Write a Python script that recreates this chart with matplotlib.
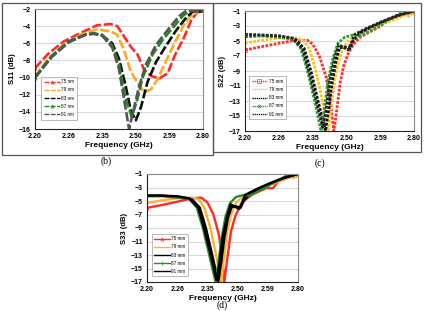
import matplotlib
matplotlib.use("Agg")
import matplotlib.pyplot as plt
from matplotlib.patches import Rectangle

plt.rcParams['font.family'] = ['Liberation Sans', 'DejaVu Sans']

W, H = 426, 311

tick_labels = ['2.20', '2.26', '2.35', '2.50', '2.59', '2.80']

# x values are positions along the (category-like) frequency axis, 0..5 = tick labels
# ---- panel (b) S11 ----
b75_x = [0, 0.4, 0.85, 1.35, 1.85, 2.25, 2.45, 2.65, 2.85, 3.05, 3.25, 3.45, 3.7, 3.95, 4.15, 4.45, 4.65, 4.85, 5.0]
b75_y = [-8.9, -7.2, -5.8, -4.8, -3.9, -3.75, -4.0, -5.2, -6.4, -7.3, -9.1, -9.8, -10.1, -9.5, -7.5, -5.2, -3.3, -2.3, -2.3]
b79_x = [0, 0.4, 0.85, 1.35, 1.85, 2.25, 2.45, 2.65, 2.85, 3.05, 3.25, 3.45, 3.65, 3.85, 4.15, 4.45, 4.65, 5.0]
b79_y = [-9.9, -7.8, -6.2, -5.0, -4.4, -4.6, -5.0, -6.8, -9.3, -10.6, -11.7, -11.4, -10.2, -8.5, -6.0, -3.7, -2.7, -2.2]
b83_x = [0, 0.5, 1.0, 1.5, 1.75, 2.0, 2.3, 2.5, 2.7, 2.85, 3.0, 3.15, 3.35, 3.6, 3.85, 4.2, 4.5, 4.7, 5.0]
b83_y = [-10, -7.5, -5.8, -5.0, -4.85, -5.1, -6.0, -7.8, -11.0, -13.8, -15.0, -13.5, -10.5, -8.2, -6.6, -4.5, -3.0, -2.3, -2.3]
b87_x = [0, 0.5, 1.0, 1.5, 1.75, 2.0, 2.3, 2.5, 2.7, 2.88, 3.05, 3.2, 3.5, 3.8, 4.1, 4.4, 4.6, 5.0]
b87_y = [-10, -7.5, -5.8, -5.0, -4.85, -5.0, -6.3, -8.5, -12.5, -14.6, -12.5, -10.0, -7.3, -5.6, -4.2, -2.8, -2.2, -2.3]
b91_x = [0, 0.5, 1.0, 1.5, 1.75, 2.0, 2.3, 2.5, 2.65, 2.8, 2.95, 3.1, 3.3, 3.6, 4.0, 4.3, 4.5, 5.0]
b91_y = [-10, -7.6, -5.9, -5.0, -4.9, -5.1, -6.5, -9.0, -12.5, -16.0, -13.5, -11.0, -8.5, -6.2, -4.2, -2.8, -2.2, -2.3]

# ---- panel (c) S22 ----
c75_x = [0, 0.5, 1.0, 1.5, 1.85, 2.0, 2.2, 2.4, 2.52, 2.63, 2.72, 2.82, 2.92, 3.05, 3.2, 3.4, 3.6, 3.9, 4.2, 4.5, 4.8, 5.0]
c75_y = [-6.2, -5.75, -5.3, -4.9, -4.9, -5.4, -7.0, -9.8, -13.0, -17.0, -14.0, -10.5, -8.3, -6.7, -5.5, -4.5, -4.0, -3.3, -2.4, -1.8, -1.4, -1.2]
c79_x = [0, 0.5, 1.0, 1.5, 1.7, 1.9, 2.1, 2.28, 2.46, 2.56, 2.66, 2.78, 2.9, 3.05, 3.2, 3.5, 4.0, 4.5, 4.75, 4.85, 5.0]
c79_y = [-5.3, -4.9, -4.6, -4.6, -4.8, -6.0, -9.0, -12.8, -17.0, -13.5, -10.0, -7.5, -6.0, -5.0, -4.4, -3.8, -2.8, -2.0, -1.5, -1.7, -1.2]
c83_x = [0, 0.5, 1.0, 1.5, 1.75, 1.95, 2.15, 2.38, 2.48, 2.58, 2.7, 2.8, 2.95, 3.1, 3.2, 3.4, 3.8, 4.2, 4.6, 5.0]
c83_y = [-4.4, -4.3, -4.4, -4.8, -6.0, -9.0, -12.8, -17.0, -14.0, -10.5, -7.5, -5.9, -5.8, -6.0, -5.0, -3.9, -3.0, -2.2, -1.5, -1.0]
c87_x = [0, 0.5, 1.0, 1.4, 1.65, 1.85, 2.05, 2.25, 2.35, 2.45, 2.6, 2.75, 2.95, 3.2, 3.4, 3.55, 3.8, 4.2, 4.6, 5.0]
c87_y = [-4.2, -4.3, -4.5, -4.7, -6.0, -9.0, -12.8, -17.0, -14.0, -10.5, -7.3, -5.3, -4.5, -4.2, -4.3, -4.0, -3.4, -2.3, -1.3, -0.9]
c91_x = [0, 0.5, 1.0, 1.4, 1.7, 1.9, 2.1, 2.3, 2.4, 2.5, 2.65, 2.77, 2.9, 3.05, 3.15, 3.25, 3.6, 4.0, 4.5, 5.0]
c91_y = [-4.1, -4.2, -4.3, -4.6, -6.0, -9.2, -12.8, -16.5, -14.2, -10.5, -7.3, -5.5, -5.8, -6.2, -5.2, -4.1, -3.3, -2.5, -1.6, -1.0]

# ---- panel (d) S33 ----
d75_x = [0, 0.5, 1.0, 1.5, 1.8, 2.0, 2.2, 2.38, 2.48, 2.56, 2.66, 2.78, 2.92, 3.05, 3.2, 3.5, 3.95, 4.17, 4.4, 4.7, 5.0]
d75_y = [-6.0, -5.6, -5.1, -4.6, -4.5, -5.2, -7.0, -10.0, -13.0, -17.0, -13.5, -9.5, -7.3, -6.0, -5.0, -4.0, -3.1, -3.1, -1.8, -1.5, -1.3]
d79_x = [0, 0.5, 1.0, 1.5, 1.7, 1.9, 2.1, 2.28, 2.46, 2.56, 2.66, 2.78, 2.95, 3.2, 3.5, 4.0, 4.5, 4.75, 4.85, 5.0]
d79_y = [-5.3, -4.9, -4.6, -4.5, -4.7, -6.0, -9.0, -12.8, -17.0, -13.0, -9.5, -7.0, -5.2, -4.3, -3.7, -2.7, -1.9, -1.4, -1.6, -1.1]
d83_x = [0, 0.5, 1.0, 1.5, 1.75, 1.95, 2.15, 2.36, 2.46, 2.56, 2.68, 2.8, 2.95, 3.1, 3.2, 3.4, 3.8, 4.2, 4.6, 5.0]
d83_y = [-4.2, -4.2, -4.4, -4.8, -6.0, -9.0, -12.8, -17.0, -14.0, -10.5, -7.5, -5.9, -5.8, -6.0, -5.0, -3.9, -3.0, -2.2, -1.5, -1.0]
d87_x = [0, 0.5, 1.0, 1.4, 1.65, 1.85, 2.05, 2.27, 2.37, 2.47, 2.6, 2.75, 2.95, 3.2, 3.4, 3.55, 3.8, 4.2, 4.6, 5.0]
d87_y = [-4.3, -4.3, -4.5, -4.7, -6.0, -9.0, -12.8, -17.0, -14.0, -10.5, -7.3, -5.3, -4.4, -4.1, -4.2, -3.9, -3.3, -2.3, -1.3, -0.9]
d91_x = [0, 0.5, 1.0, 1.4, 1.7, 1.9, 2.1, 2.3, 2.4, 2.5, 2.65, 2.77, 2.9, 3.05, 3.15, 3.25, 3.6, 4.0, 4.5, 5.0]
d91_y = [-4.2, -4.2, -4.3, -4.6, -6.0, -9.2, -12.8, -16.7, -14.2, -10.5, -7.3, -5.5, -5.8, -6.2, -5.2, -4.1, -3.3, -2.5, -1.6, -1.0]

labels_nm = ['75 nm', '79 nm', '83 nm', '87 nm', '91 nm']
labels_mm = ['75 mm', '79 mm', '83 mm', '87 mm', '91 mm']

fig = plt.figure(figsize=(W / 100, H / 100), dpi=100)


def px_axes(l, t, r, b):
    return fig.add_axes([l / W, 1 - b / H, (r - l) / W, (b - t) / H])


def style(ax, ylim, yticks, ylabel):
    ax.set_xlim(0, 5)
    ax.set_ylim(*ylim)
    ax.set_xticks(range(6))
    ax.set_xticklabels(tick_labels)
    ax.set_yticks(yticks)
    ax.yaxis.grid(True, color='#d0d0d0', lw=0.6)
    ax.set_axisbelow(True)
    ax.tick_params(length=0, labelsize=5, pad=3)
    for lab in ax.get_xticklabels() + ax.get_yticklabels():
        lab.set_fontweight('bold')
    for s in ax.spines.values():
        s.set_color('#8c8c8c')
        s.set_linewidth(0.8)
    ax.spines['left'].set_color('#222222')
    ax.spines['bottom'].set_color('#222222')
    ax.set_xlabel('Frequency (GHz)', fontsize=6, fontweight='bold', labelpad=1)
    ax.set_ylabel(ylabel, fontsize=5.5, fontweight='bold', labelpad=2)


def legend(ax, anchor):
    lg = ax.legend(loc='lower left', bbox_to_anchor=anchor, fontsize=3.3,
                   handlelength=3.4, handletextpad=0.4, labelspacing=0.7,
                   borderpad=0.55, frameon=True, fancybox=False)
    lg.get_frame().set_edgecolor('#9a9a9a')
    lg.get_frame().set_linewidth(0.6)
    for ln in lg.get_lines():
        ln.set_linewidth(1.0)


# (b)
ax = px_axes(35, 9, 203, 129)
cols_b = ['#ff2a2a', '#ffa820', '#111111', '#1f8a1f', '#555555']
series_b = [(b75_x, b75_y), (b79_x, b79_y), (b83_x, b83_y), (b87_x, b87_y), (b91_x, b91_y)]
marks_b = ['^', None, None, '^', None]
for (x, y), c, m, lab in zip(series_b, cols_b, marks_b, labels_nm):
    ax.plot(x, y, color=c, lw=1.9, ls=(0, (3.5, 1.0)), marker=m, ms=2.2, mfc='none',
            mew=0.5, markevery=[0], label=lab)
style(ax, (-16, -2), range(-16, -1, 2), 'S11 (dB)')
legend(ax, (0.025, 0.06))

# (c)
ax = px_axes(245, 11, 414, 131)
cols_c = ['#ff3030', '#ffc21a', '#111111', '#2ea02e', '#222222']
series_c = [(c75_x, c75_y), (c79_x, c79_y), (c83_x, c83_y), (c87_x, c87_y), (c91_x, c91_y)]
marks_c = ['s', None, None, 'o', None]
for (x, y), c, m, lab in zip(series_c, cols_c, marks_c, labels_mm):
    ax.plot(x, y, color=c, lw=2.0, ls=(0, (1, 0.5)), marker=m, ms=2.2, mfc='none',
            mew=0.5, markevery=[0], label=lab)
style(ax, (-17, -1), range(-17, 0, 2), 'S22 (dB)')
legend(ax, (0.01, 0.08))

# (d)
ax = px_axes(147, 174, 298, 282)
cols_d = ['#ff2a2a', '#ffb030', '#000000', '#2a8a2a', '#000000']
series_d = [(d75_x, d75_y), (d79_x, d79_y), (d83_x, d83_y), (d87_x, d87_y), (d91_x, d91_y)]
marks_d = ['^', None, None, '+', None]
for (x, y), c, m, lab in zip(series_d, cols_d, marks_d, labels_mm):
    ax.plot(x, y, color=c, lw=1.7, marker=m, ms=2.2, mfc='none', mew=0.5,
            markevery=[0], label=lab)
style(ax, (-17, -1), range(-17, 0, 2), 'S33 (dB)')
legend(ax, (0.015, 0.03))

# panel frames and captions
for l, t, r, b in [(2, 3, 213, 155), (213, 3, 421, 152)]:
    fig.patches.append(Rectangle((l / W, 1 - b / H), (r - l) / W, (b - t) / H,
                                 transform=fig.transFigure, fill=False,
                                 edgecolor='#555555', lw=0.9))
for txt, x, y in [('(b)', 106, 161), ('(c)', 320, 163), ('(d)', 222, 305)]:
    fig.text(x / W, 1 - y / H, txt, ha='center', va='center', fontsize=7,
             family='Liberation Serif')

fig.savefig('out.png', dpi=100)
